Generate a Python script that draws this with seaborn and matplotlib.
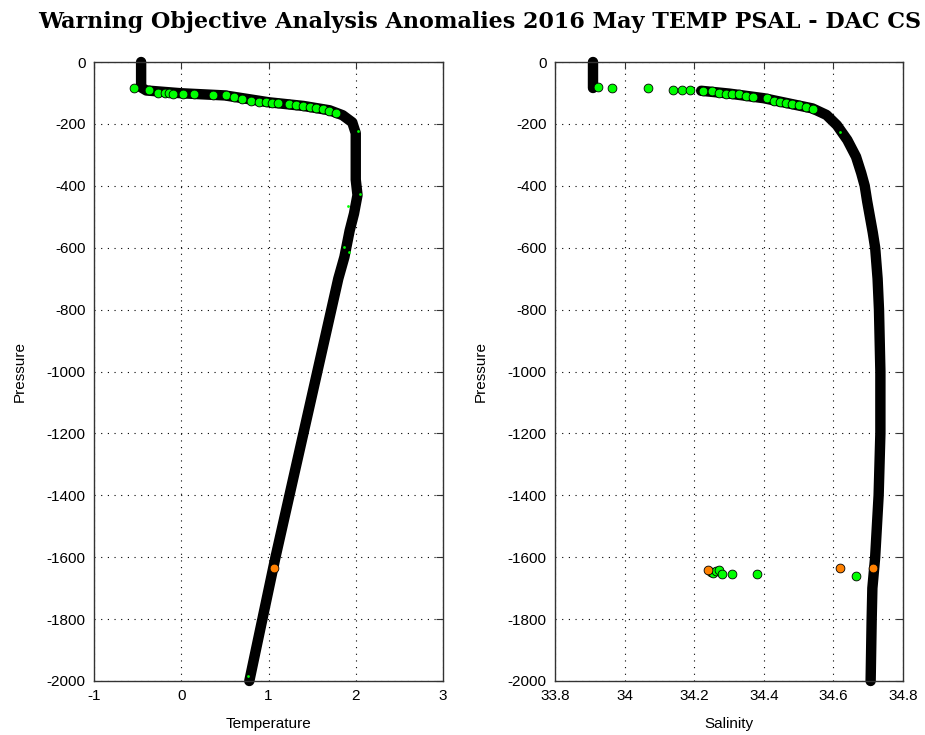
import matplotlib
matplotlib.use("Agg")
import matplotlib.pyplot as plt
import seaborn as sns

# ==================================================
# DATA
# ==================================================

# temperature profile (black, good data)
temp_prof = [-0.46, -0.46, -0.46, -0.40, 0.0, 0.5, 1.0, 1.4, 1.7, 1.85, 1.96,
             2.0, 2.0, 2.0, 2.02, 1.98, 1.93, 1.87, 1.80, 1.72, 1.56, 1.40,
             1.24, 1.08, 0.93, 0.78]
temp_pres = [0, -40, -82, -92, -101, -108, -130, -142, -156, -172, -195,
             -230, -300, -380, -430, -490, -545, -630, -700, -800, -1000, -1200,
             -1400, -1600, -1800, -2000]

# temperature points flagged green
temp_green = [-0.54, -0.37, -0.27, -0.19, -0.14, -0.09, 0.02, 0.15, 0.36, 0.51,
              0.61, 0.70, 0.80, 0.89, 0.97, 1.04, 1.11, 1.24, 1.32, 1.39,
              1.47, 1.55, 1.62, 1.69, 1.77]
temp_green_pres = [-85, -90, -99, -101, -101, -103, -103, -103, -107, -107,
                   -112, -121, -125, -129, -130, -131, -131, -136, -139, -142,
                   -146, -150, -153, -157, -164]

# small green marks inside the temperature profile
temp_small = [2.03, 2.05, 1.91, 1.86, 1.92, 0.77]
temp_small_pres = [-223, -427, -465, -598, -614, -1984]

# temperature points flagged orange
temp_orange = [1.06]
temp_orange_pres = [-1635]

# salinity profile (black), surface part and deep part
sal_top = [33.909, 33.909, 33.909]
sal_top_pres = [0, -40, -84]
sal_prof = [34.22, 34.30, 34.40, 34.54, 34.58, 34.61, 34.64, 34.665, 34.68,
            34.69, 34.697, 34.705, 34.713, 34.72, 34.727, 34.731, 34.735,
            34.735, 34.73, 34.72, 34.712, 34.71, 34.707]
sal_pres = [-93, -102, -117, -150, -171, -204, -252, -306, -359,
            -400, -450, -500, -550, -600, -700, -800, -1000,
            -1200, -1400, -1600, -1700, -1800, -2000]

# salinity points flagged green
sal_green = [33.924, 33.964, 34.067, 34.14, 34.164, 34.187, 34.225, 34.25,
             34.27, 34.29, 34.31, 34.33, 34.35, 34.37, 34.41, 34.43, 34.446,
             34.465, 34.48, 34.50, 34.52, 34.54,
             34.248, 34.255, 34.262, 34.272, 34.28, 34.31, 34.38, 34.665]
sal_green_pres = [-80, -85, -85, -90, -90, -90, -94, -94,
                  -99, -103, -103, -103, -110, -112, -117, -125, -128,
                  -131, -136, -139, -144, -153,
                  -1648, -1652, -1645, -1640, -1655, -1655, -1655, -1660]

sal_small = [34.62]
sal_small_pres = [-225]

# salinity points flagged orange
sal_orange = [34.24, 34.62, 34.715]
sal_orange_pres = [-1640, -1635, -1635]

# axes ticks
temp_ticks = [-1, 0, 1, 2, 3]
temp_labels = ["-1", "0", "1", "2", "3"]
sal_ticks = [33.8, 34.0, 34.2, 34.4, 34.6, 34.8]
sal_labels = ["33.8", "34", "34.2", "34.4", "34.6", "34.8"]
pres_ticks = [0, -200, -400, -600, -800, -1000, -1200, -1400, -1600, -1800, -2000]

title = "Warning Objective Analysis Anomalies 2016 May TEMP PSAL - DAC CS"

# ==================================================
# STYLE
# ==================================================

sns.set_style("white")
plt.rcParams['font.family'] = ['Liberation Sans', 'DejaVu Sans']
plt.rcParams['axes.unicode_minus'] = False
plt.rcParams['text.color'] = 'black'
plt.rcParams['axes.labelcolor'] = 'black'
plt.rcParams['xtick.color'] = 'black'
plt.rcParams['ytick.color'] = 'black'

GREEN = "#00ff00"
ORANGE = "#ff8000"

fig = plt.figure(figsize=(9.25, 7.35), dpi=100)
ax1 = fig.add_axes([94 / 925, 1 - 681 / 735, 349 / 925, 619 / 735])
ax2 = fig.add_axes([555 / 925, 1 - 681 / 735, 348 / 925, 619 / 735])


def style_axis(ax, xlim, ticks, labels, xlabel):
    ax.set_xlim(xlim)
    ax.set_ylim(-2000, 0)
    ax.set_xticks(ticks)
    ax.set_xticklabels(labels)
    ax.set_yticks(pres_ticks)
    ax.set_yticklabels([str(t) for t in pres_ticks])
    ax.grid(True, color="black", linestyle=(0, (1, 5)), linewidth=0.8)
    ax.tick_params(direction="in", top=True, right=True, length=5,
                   width=0.8, color="#333333", labelcolor="black",
                   labelsize=11, pad=6)
    for sp in ax.spines.values():
        sp.set_color("#333333")
        sp.set_linewidth(1.0)
    ax.set_xlabel(xlabel, fontsize=11, labelpad=10)
    ax.set_ylabel("Pressure", fontsize=11, labelpad=14)
    ax.set_axisbelow(True)


# ==================================================
# TEMPERATURE PANEL
# ==================================================

sns.lineplot(x=temp_prof, y=temp_pres, sort=False, estimator=None,
             color="black", linewidth=7.5, solid_capstyle="round",
             solid_joinstyle="round", clip_on=False, ax=ax1, zorder=2)
sns.scatterplot(x=temp_green, y=temp_green_pres, color=GREEN,
                edgecolor="black", linewidth=0.6, s=40, ax=ax1, zorder=3)
sns.scatterplot(x=temp_small, y=temp_small_pres, color=GREEN,
                linewidth=0, s=4, ax=ax1, zorder=3)
sns.scatterplot(x=temp_orange, y=temp_orange_pres, color=ORANGE,
                edgecolor="black", linewidth=0.6, s=40, ax=ax1, zorder=4)

style_axis(ax1, (-1, 3), temp_ticks, temp_labels, "Temperature")

# ==================================================
# SALINITY PANEL
# ==================================================

sns.lineplot(x=sal_top, y=sal_top_pres, sort=False, estimator=None,
             color="black", linewidth=7.5, solid_capstyle="round",
             clip_on=False, ax=ax2, zorder=2)
sns.lineplot(x=sal_prof, y=sal_pres, sort=False, estimator=None,
             color="black", linewidth=7.5, solid_capstyle="round",
             solid_joinstyle="round", clip_on=False, ax=ax2, zorder=2)
sns.scatterplot(x=sal_green, y=sal_green_pres, color=GREEN,
                edgecolor="black", linewidth=0.6, s=40, ax=ax2, zorder=3)
sns.scatterplot(x=sal_small, y=sal_small_pres, color=GREEN,
                linewidth=0, s=4, ax=ax2, zorder=3)
sns.scatterplot(x=sal_orange, y=sal_orange_pres, color=ORANGE,
                edgecolor="black", linewidth=0.6, s=40, ax=ax2, zorder=4)

style_axis(ax2, (33.8, 34.8), sal_ticks, sal_labels, "Salinity")

# ==================================================
# TITLE + SAVE
# ==================================================

fig.text(480 / 925, 1 - 22 / 735, title, ha="center", va="center",
         fontsize=16, fontweight="bold", color="black",
         family=["DejaVu Serif"])

fig.savefig("out.png", dpi=100)
